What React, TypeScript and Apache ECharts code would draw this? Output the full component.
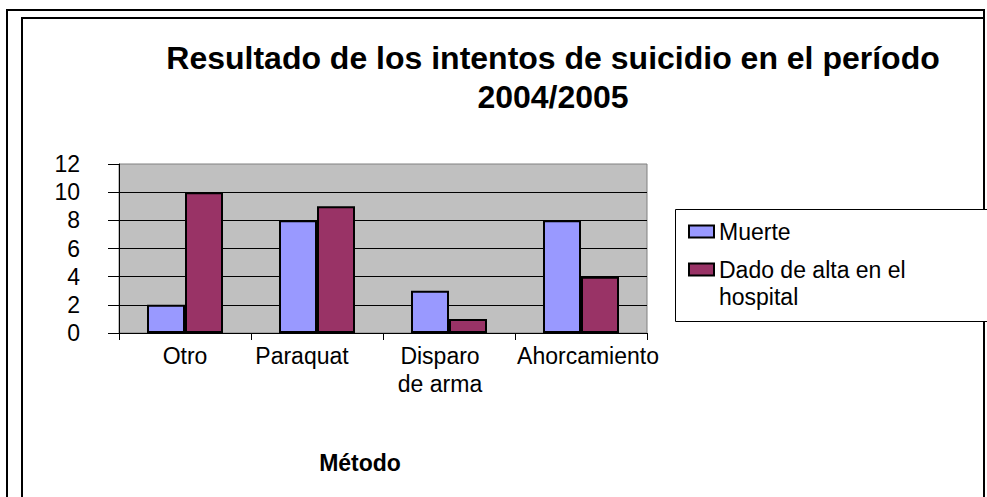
import React, { useEffect, useRef } from "react";
import * as echarts from "echarts";

const categories = ["Otro", "Paraquat", "Disparo\nde arma", "Ahorcamiento"];
const muerte = [2, 8, 3, 8];
const dadoDeAlta = [10, 9, 1, 4];
const seriesNames = ["Muerte", "Dado de alta en el hospital"];
const titleText = "Resultado de los intentos de suicidio en el período\n2004/2005";
const xAxisTitle = "Método";

const FONT = "'Liberation Sans', Arial, sans-serif";

export default function App() {
  const ref = useRef<HTMLDivElement>(null);
  useEffect(() => {
    if (!ref.current) return;
    const chart = echarts.init(ref.current, undefined, { renderer: "svg" });
    const labelPad: Record<number, number[]> = {
      0: [0, 0, 0, 0],
      1: [0, 30, 0, 0],
      2: [0, 18, 0, 0],
      3: [0, 0, 0, 14],
    };
    const rich: Record<string, any> = {};
    Object.keys(labelPad).forEach((k) => {
      rich["c" + k] = {
        fontSize: 23,
        fontFamily: FONT,
        color: "#000",
        lineHeight: 28,
        padding: labelPad[Number(k)],
      };
    });
    chart.setOption({
      animation: false,
      backgroundColor: "#fff",
      title: {
        text: titleText,
        left: 553,
        top: 38,
        padding: 0,
        textAlign: "center",
        textStyle: {
          fontFamily: FONT,
          fontSize: 32,
          fontWeight: "bold",
          color: "#000",
          lineHeight: 39,
        },
      },
      graphic: [
        {
          type: "rect",
          shape: { x: 7, y: 10, width: 977, height: 600 },
          style: { fill: "none", stroke: "#000", lineWidth: 2 },
          z: 1,
        },
        {
          type: "rect",
          shape: { x: 22, y: 18, width: 962, height: 600 },
          style: { fill: "none", stroke: "#000", lineWidth: 2 },
          z: 1,
        },
        {
          type: "rect",
          shape: { x: 675.5, y: 209.5, width: 400, height: 112 },
          style: { fill: "#fff", stroke: "#000", lineWidth: 1 },
          z: 2,
        },
        {
          type: "text",
          x: 360,
          y: 463,
          style: {
            text: xAxisTitle,
            fontFamily: FONT,
            fontSize: 23,
            fontWeight: "bold",
            fill: "#000",
            textAlign: "center",
            textVerticalAlign: "middle",
          },
          z: 3,
        },
      ],
      legend: [
        {
          data: [seriesNames[0]],
          orient: "vertical",
          left: 688,
          top: 220,
          padding: 0,
          itemWidth: 25,
          itemHeight: 12,
          itemGap: 0,
          icon: "rect",
          z: 10,
          textStyle: { fontFamily: FONT, fontSize: 23, color: "#000" },
        },
        {
          data: [seriesNames[1]],
          orient: "vertical",
          left: 688,
          top: 229,
          padding: 0,
          itemWidth: 25,
          itemHeight: 12,
          itemGap: 0,
          icon: "rect",
          z: 10,
          formatter: () => " \nDado de alta en el\nhospital",
          textStyle: {
            fontFamily: FONT,
            fontSize: 23,
            color: "#000",
            lineHeight: 27,
          },
        },
      ],
      grid: {
        left: 119,
        top: 164,
        right: 340,
        bottom: 164,
        show: true,
        backgroundColor: "#C0C0C0",
        borderColor: "#808080",
        borderWidth: 1,
        containLabel: false,
      },
      xAxis: {
        type: "category",
        data: categories,
        boundaryGap: true,
        axisLine: { show: true, lineStyle: { color: "#000", width: 1 } },
        axisTick: { show: true, length: 7, lineStyle: { color: "#000" } },
        axisLabel: {
          margin: 9,
          interval: 0,
          formatter: (value: string, index: number) =>
            value
              .split("\n")
              .map((l) => `{c${index}|${l}}`)
              .join("\n"),
          rich,
        },
        splitLine: { show: false },
      },
      yAxis: {
        type: "value",
        min: 0,
        max: 12,
        interval: 2,
        axisLine: { show: true, lineStyle: { color: "#000", width: 1 } },
        axisTick: { show: true, length: 11, lineStyle: { color: "#000" } },
        axisLabel: {
          margin: 39,
          fontFamily: FONT,
          fontSize: 23,
          color: "#000",
        },
        splitLine: {
          show: true,
          showMinLine: false,
          showMaxLine: false,
          lineStyle: { color: "#000", width: 1 },
        },
      },
      series: [
        {
          name: seriesNames[0],
          type: "bar",
          data: muerte,
          barWidth: 38,
          barGap: "0%",
          itemStyle: { color: "#9999FF", borderColor: "#000", borderWidth: 2 },
        },
        {
          name: seriesNames[1],
          type: "bar",
          data: dadoDeAlta,
          barWidth: 38,
          barGap: "0%",
          itemStyle: { color: "#993366", borderColor: "#000", borderWidth: 2 },
        },
      ],
    });
    return () => chart.dispose();
  }, []);
  return (
    <div
      ref={ref}
      style={{ position: "fixed", left: 0, top: 0, width: 987, height: 497 }}
    />
  );
}
